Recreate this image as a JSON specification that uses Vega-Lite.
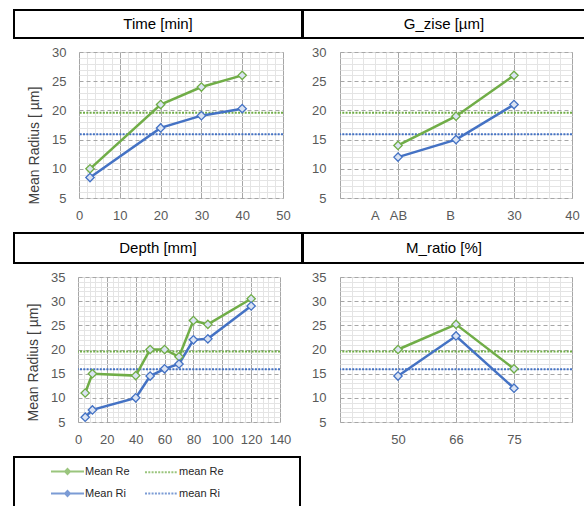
{
  "$schema": "https://vega.github.io/schema/vega-lite/v6.json",
  "background": "white",
  "padding": {"left": 13, "top": 9, "right": 0, "bottom": 0},
  "config": {
    "font": "Liberation Sans",
    "view": {"stroke": "#D9D9D9", "strokeWidth": 1},
    "axis": {"labelFont": "Liberation Sans", "labelFontSize": 13, "labelColor": "#595959", "ticks": false, "tickSize": 0, "domain": false, "labelFlush": false, "labelOverlap": false, "titleFont": "Liberation Sans", "titleFontSize": 14, "titleFontWeight": "normal", "titleColor": "#404040", "gridWidth": 1},
    "axisX": {"labelPadding": 11}
  },
  "resolve": {"scale": {"stroke": "independent", "shape": "independent", "strokeDash": "independent"}, "legend": {"stroke": "independent", "shape": "independent", "strokeDash": "independent"}},
  "spacing": -2,
  "hconcat": [
    {
      "spacing": 9,
      "resolve": {"scale": {"stroke": "independent", "shape": "independent", "strokeDash": "independent"}, "legend": {"stroke": "independent", "shape": "independent", "strokeDash": "independent"}},
      "vconcat": [
        {
          "spacing": 7,
          "vconcat": [
            {"width": 288, "height": 28, "view": {"stroke": "#000000", "strokeWidth": 2}, "data": {"values": [{"t": "Time [min]"}]}, "mark": {"type": "text", "fontSize": 15, "color": "#000000", "font": "Liberation Sans", "baseline": "middle", "align": "center"}, "encoding": {"text": {"field": "t"}}},
            {
              "spacing": -4,
              "hconcat": [
                {
                  "width": 64, "height": 146, "view": {"stroke": null},
                  "data": {"values": [{"v": 10}, {"v": 21}, {"v": 24}, {"v": 26}, {"v": 8.5}, {"v": 17}, {"v": 19.1}, {"v": 20.3}]},
                  "mark": {"type": "text", "text": ""},
                  "encoding": {"y": {"field": "v", "type": "quantitative", "scale": {"domain": [5, 30], "nice": false, "zero": false}, "axis": {"orient": "right", "grid": false, "values": [5, 10, 15, 20, 25, 30], "labelAlign": "right", "labelPadding": -12, "title": "Mean Radius [ µm]", "titleAngle": 270, "titleX": -44, "titleY": 93, "titleAlign": "center", "titleBaseline": "middle"}}}
                },
                {
                  "width": 204, "height": 146,
                  "data": {"values": [
                    {"x": 2.7, "v": 10, "s": "Re"}, {"x": 20, "v": 21, "s": "Re"}, {"x": 30, "v": 24, "s": "Re"}, {"x": 40, "v": 26, "s": "Re"},
                    {"x": 2.7, "v": 8.5, "s": "Ri"}, {"x": 20, "v": 17, "s": "Ri"}, {"x": 30, "v": 19.1, "s": "Ri"}, {"x": 40, "v": 20.3, "s": "Ri"}
                  ]},
                  "encoding": {
                    "y": {"field": "v", "type": "quantitative", "scale": {"domain": [5, 30], "nice": false, "zero": false}, "axis": {"title": null, "labels": false, "values": [5,6,7,8,9,10,11,12,13,14,15,16,17,18,19,20,21,22,23,24,25,26,27,28,29,30], "gridColor": {"condition": {"test": "datum.value % 5 === 0", "value": "#A6A6A6"}, "value": "#E4E4E4"}, "gridDash": {"condition": {"test": "datum.value % 5 === 0", "value": [4, 3]}, "value": []}}},
                    "stroke": {"field": "s", "type": "nominal", "scale": {"domain": ["Re", "Ri"], "range": ["#70AD47", "#4472C4"]}, "legend": null}
                  },
                  "layer": [
                    {"data": {"values": [{"s": "Re", "v": 19.6}, {"s": "Ri", "v": 15.9}]}, "mark": {"type": "rule", "strokeDash": [2, 1.3], "strokeWidth": 2}},
                    {"mark": {"type": "line", "strokeWidth": 2.5}, "encoding": {"x": {"field": "x", "type": "quantitative", "scale": {"domain": [0, 50], "nice": false, "zero": false}, "axis": {"title": null, "values": [0,2,4,6,8,10,12,14,16,18,20,22,24,26,28,30,32,34,36,38,40,42,44,46,48,50], "labelExpr": "datum.value % 10 === 0 ? datum.label : ''", "gridColor": {"condition": {"test": "datum.value % 10 === 0", "value": "#A6A6A6"}, "value": "#E4E4E4"}}}}},
                    {"mark": {"type": "point", "shape": "diamond", "filled": true, "fill": "#DAE3F3", "size": 70, "strokeWidth": 1.3, "opacity": 1}, "encoding": {"x": {"field": "x", "type": "quantitative", "scale": {"domain": [0, 50], "nice": false, "zero": false}, "axis": {"title": null, "values": [0,2,4,6,8,10,12,14,16,18,20,22,24,26,28,30,32,34,36,38,40,42,44,46,48,50], "labelExpr": "datum.value % 10 === 0 ? datum.label : ''", "gridColor": {"condition": {"test": "datum.value % 10 === 0", "value": "#A6A6A6"}, "value": "#E4E4E4"}}}}}
                  ]
                }
              ]
            }
          ]
        },
        {
          "spacing": 7,
          "vconcat": [
            {"width": 288, "height": 30, "view": {"stroke": "#000000", "strokeWidth": 2}, "data": {"values": [{"t": "Depth [mm]"}]}, "mark": {"type": "text", "fontSize": 15, "color": "#000000", "font": "Liberation Sans", "baseline": "middle", "align": "center"}, "encoding": {"text": {"field": "t"}}},
            {
              "spacing": -4,
              "hconcat": [
                {
                  "width": 63, "height": 145, "view": {"stroke": null},
                  "data": {"values": [{"v": 11}, {"v": 30.5}, {"v": 6}, {"v": 29}]},
                  "mark": {"type": "text", "text": ""},
                  "encoding": {"y": {"field": "v", "type": "quantitative", "scale": {"domain": [5, 35], "nice": false, "zero": false}, "axis": {"orient": "right", "grid": false, "values": [5, 10, 15, 20, 25, 30, 35], "labelAlign": "right", "labelPadding": -12, "title": "Mean Radius [ µm]", "titleAngle": 270, "titleX": -44, "titleY": 85, "titleAlign": "center", "titleBaseline": "middle"}}}
                },
                {
                  "width": 202, "height": 145,
                  "data": {"values": [
                    {"x": 5, "v": 11, "s": "Re"}, {"x": 10, "v": 15, "s": "Re"}, {"x": 40, "v": 14.6, "s": "Re"}, {"x": 50, "v": 20, "s": "Re"}, {"x": 60, "v": 20, "s": "Re"}, {"x": 70, "v": 18.5, "s": "Re"}, {"x": 80, "v": 26, "s": "Re"}, {"x": 90, "v": 25.2, "s": "Re"}, {"x": 120, "v": 30.5, "s": "Re"},
                    {"x": 5, "v": 6, "s": "Ri"}, {"x": 10, "v": 7.5, "s": "Ri"}, {"x": 40, "v": 10, "s": "Ri"}, {"x": 50, "v": 14.5, "s": "Ri"}, {"x": 60, "v": 16, "s": "Ri"}, {"x": 70, "v": 17, "s": "Ri"}, {"x": 80, "v": 22, "s": "Ri"}, {"x": 90, "v": 22.2, "s": "Ri"}, {"x": 120, "v": 29, "s": "Ri"}
                  ]},
                  "encoding": {
                    "y": {"field": "v", "type": "quantitative", "scale": {"domain": [5, 35], "nice": false, "zero": false}, "axis": {"title": null, "labels": false, "values": [5,6,7,8,9,10,11,12,13,14,15,16,17,18,19,20,21,22,23,24,25,26,27,28,29,30,31,32,33,34,35], "gridColor": {"condition": {"test": "datum.value % 5 === 0", "value": "#A6A6A6"}, "value": "#E4E4E4"}, "gridDash": {"condition": {"test": "datum.value % 5 === 0", "value": [4, 3]}, "value": []}}},
                    "stroke": {"field": "s", "type": "nominal", "scale": {"domain": ["Re", "Ri"], "range": ["#70AD47", "#4472C4"]}, "legend": null}
                  },
                  "layer": [
                    {"data": {"values": [{"s": "Re", "v": 19.6}, {"s": "Ri", "v": 15.9}]}, "mark": {"type": "rule", "strokeDash": [2, 1.3], "strokeWidth": 2}},
                    {"mark": {"type": "line", "strokeWidth": 2.5}, "encoding": {"x": {"field": "x", "type": "quantitative", "scale": {"domain": [0, 140], "nice": false, "zero": false}, "axis": {"title": null, "values": [0,4,8,12,16,20,24,28,32,36,40,44,48,52,56,60,64,68,72,76,80,84,88,92,96,100,104,108,112,116,120,124,128,132,136,140], "labelExpr": "datum.value % 20 === 0 ? datum.label : ''", "gridColor": {"condition": {"test": "datum.value % 20 === 0", "value": "#A6A6A6"}, "value": "#E4E4E4"}}}}},
                    {"mark": {"type": "point", "shape": "diamond", "filled": true, "fill": "#DAE3F3", "size": 70, "strokeWidth": 1.3, "opacity": 1}, "encoding": {"x": {"field": "x", "type": "quantitative", "scale": {"domain": [0, 140], "nice": false, "zero": false}, "axis": {"title": null, "values": [0,4,8,12,16,20,24,28,32,36,40,44,48,52,56,60,64,68,72,76,80,84,88,92,96,100,104,108,112,116,120,124,128,132,136,140], "labelExpr": "datum.value % 20 === 0 ? datum.label : ''", "gridColor": {"condition": {"test": "datum.value % 20 === 0", "value": "#A6A6A6"}, "value": "#E4E4E4"}}}}}
                  ]
                }
              ]
            }
          ]
        },
        {
          "width": 286, "height": 50,
          "view": {"stroke": "#000000", "strokeWidth": 2},
          "data": {"values": []},
          "mark": {"type": "point", "filled": true, "fill": "#DAE3F3"},
          "encoding": {
            "stroke": {"field": "s", "type": "nominal", "scale": {"domain": ["Mean Re", "Mean Ri", "mean Re", "mean Ri"], "range": ["#70AD47", "#4472C4", "#70AD47", "#4472C4"]}, "legend": {"title": null, "orient": "none", "legendX": 37, "legendY": 8, "columns": 2, "symbolSize": 121, "symbolStrokeWidth": 2, "symbolOffset": 10, "labelOffset": 11, "columnPadding": 11, "rowPadding": 9, "labelFont": "Liberation Sans", "labelFontSize": 11, "labelColor": "#262626", "padding": 0, "symbolFillColor": "#DAE3F3"}},
            "shape": {"field": "s", "type": "nominal", "scale": {"domain": ["Mean Re", "Mean Ri", "mean Re", "mean Ri"], "range": ["M-3,0H3M0,-0.45L0.45,0L0,0.45L-0.45,0Z", "M-3,0H3M0,-0.45L0.45,0L0,0.45L-0.45,0Z", "M-3,0H3", "M-3,0H3"]}, "legend": {"title": null, "orient": "none", "legendX": 37, "legendY": 8, "columns": 2, "symbolSize": 121, "symbolStrokeWidth": 2, "symbolOffset": 10, "labelOffset": 11, "columnPadding": 11, "rowPadding": 9, "labelFont": "Liberation Sans", "labelFontSize": 11, "labelColor": "#262626", "padding": 0, "symbolFillColor": "#DAE3F3"}},
            "strokeDash": {"field": "s", "type": "nominal", "scale": {"domain": ["Mean Re", "Mean Ri", "mean Re", "mean Ri"], "range": [[1, 0], [1, 0], [2, 1.3], [2, 1.3]]}, "legend": {"title": null, "orient": "none", "legendX": 37, "legendY": 8, "columns": 2, "symbolSize": 121, "symbolStrokeWidth": 2, "symbolOffset": 10, "labelOffset": 11, "columnPadding": 11, "rowPadding": 9, "labelFont": "Liberation Sans", "labelFontSize": 11, "labelColor": "#262626", "padding": 0, "symbolFillColor": "#DAE3F3"}}
          }
        }
      ]
    },
    {
      "spacing": 9,
      "vconcat": [
        {
          "spacing": 7,
          "vconcat": [
            {"width": 284, "height": 28, "view": {"stroke": "#000000", "strokeWidth": 2}, "data": {"values": [{"t": "G_zise [µm]"}]}, "mark": {"type": "text", "fontSize": 15, "color": "#000000", "font": "Liberation Sans", "baseline": "middle", "align": "center", "dx": -1}, "encoding": {"text": {"field": "t"}}},
            {
              "spacing": -1,
              "hconcat": [
                {
                  "width": 36, "height": 146, "view": {"stroke": null},
                  "data": {"values": [{"v": 14}, {"v": 19}, {"v": 26}, {"v": 12}, {"v": 15}, {"v": 21}]},
                  "mark": {"type": "text", "text": ""},
                  "encoding": {"y": {"field": "v", "type": "quantitative", "scale": {"domain": [5, 30], "nice": false, "zero": false}, "axis": {"orient": "right", "grid": false, "values": [5, 10, 15, 20, 25, 30], "labelAlign": "right", "labelPadding": -13, "title": null}}}
                },
                {
                  "width": 232, "height": 146,
                  "data": {"values": [
                    {"x": 10, "v": 14, "s": "Re"}, {"x": 20, "v": 19, "s": "Re"}, {"x": 30, "v": 26, "s": "Re"},
                    {"x": 10, "v": 12, "s": "Ri"}, {"x": 20, "v": 15, "s": "Ri"}, {"x": 30, "v": 21, "s": "Ri"}
                  ]},
                  "encoding": {
                    "y": {"field": "v", "type": "quantitative", "scale": {"domain": [5, 30], "nice": false, "zero": false}, "axis": {"title": null, "labels": false, "values": [5,6,7,8,9,10,11,12,13,14,15,16,17,18,19,20,21,22,23,24,25,26,27,28,29,30], "gridColor": {"condition": {"test": "datum.value % 5 === 0", "value": "#A6A6A6"}, "value": "#E4E4E4"}, "gridDash": {"condition": {"test": "datum.value % 5 === 0", "value": [4, 3]}, "value": []}}},
                    "stroke": {"field": "s", "type": "nominal", "scale": {"domain": ["Re", "Ri"], "range": ["#70AD47", "#4472C4"]}, "legend": null}
                  },
                  "layer": [
                    {"data": {"values": [{"s": "Re", "v": 19.6}, {"s": "Ri", "v": 15.9}]}, "mark": {"type": "rule", "strokeDash": [2, 1.3], "strokeWidth": 2}},
                    {"mark": {"type": "line", "strokeWidth": 2.5}, "encoding": {"x": {"field": "x", "type": "quantitative", "scale": {"domain": [0, 40], "nice": false, "zero": false}, "axis": {"title": null, "values": [0,1,2,3,4,5,6,7,8,9,10,11,12,13,14,15,16,17,18,19,20,21,22,23,24,25,26,27,28,29,30,31,32,33,34,35,36,37,38,39,40], "labelExpr": "datum.value == 6 ? 'A' : datum.value == 10 ? 'AB' : datum.value == 19 ? 'B' : datum.value == 30 ? '30' : datum.value == 40 ? '40' : ''", "gridColor": {"condition": {"test": "datum.value % 10 === 0", "value": "#A6A6A6"}, "value": "#E4E4E4"}, "gridOpacity": {"condition": {"test": "datum.value % 2 !== 0", "value": 0}, "value": 1}}}}},
                    {"mark": {"type": "point", "shape": "diamond", "filled": true, "fill": "#DAE3F3", "size": 70, "strokeWidth": 1.3, "opacity": 1}, "encoding": {"x": {"field": "x", "type": "quantitative", "scale": {"domain": [0, 40], "nice": false, "zero": false}, "axis": {"title": null, "values": [0,1,2,3,4,5,6,7,8,9,10,11,12,13,14,15,16,17,18,19,20,21,22,23,24,25,26,27,28,29,30,31,32,33,34,35,36,37,38,39,40], "labelExpr": "datum.value == 6 ? 'A' : datum.value == 10 ? 'AB' : datum.value == 19 ? 'B' : datum.value == 30 ? '30' : datum.value == 40 ? '40' : ''", "gridColor": {"condition": {"test": "datum.value % 10 === 0", "value": "#A6A6A6"}, "value": "#E4E4E4"}, "gridOpacity": {"condition": {"test": "datum.value % 2 !== 0", "value": 0}, "value": 1}}}}}
                  ]
                }
              ]
            }
          ]
        },
        {
          "spacing": 7,
          "vconcat": [
            {"width": 284, "height": 30, "view": {"stroke": "#000000", "strokeWidth": 2}, "data": {"values": [{"t": "M_ratio [%]"}]}, "mark": {"type": "text", "fontSize": 15, "color": "#000000", "font": "Liberation Sans", "baseline": "middle", "align": "center", "dx": -1}, "encoding": {"text": {"field": "t"}}},
            {
              "spacing": -1,
              "hconcat": [
                {
                  "width": 36, "height": 145, "view": {"stroke": null},
                  "data": {"values": [{"v": 20}, {"v": 25.2}, {"v": 16}, {"v": 14.5}, {"v": 22.8}, {"v": 12}]},
                  "mark": {"type": "text", "text": ""},
                  "encoding": {"y": {"field": "v", "type": "quantitative", "scale": {"domain": [5, 35], "nice": false, "zero": false}, "axis": {"orient": "right", "grid": false, "values": [5, 10, 15, 20, 25, 30, 35], "labelAlign": "right", "labelPadding": -13, "title": null}}}
                },
                {
                  "width": 232, "height": 145,
                  "data": {"values": [
                    {"x": 1, "v": 20, "s": "Re"}, {"x": 2, "v": 25.2, "s": "Re"}, {"x": 3, "v": 16, "s": "Re"},
                    {"x": 1, "v": 14.5, "s": "Ri"}, {"x": 2, "v": 22.8, "s": "Ri"}, {"x": 3, "v": 12, "s": "Ri"}
                  ]},
                  "encoding": {
                    "y": {"field": "v", "type": "quantitative", "scale": {"domain": [5, 35], "nice": false, "zero": false}, "axis": {"title": null, "labels": false, "values": [5,6,7,8,9,10,11,12,13,14,15,16,17,18,19,20,21,22,23,24,25,26,27,28,29,30,31,32,33,34,35], "gridColor": {"condition": {"test": "datum.value % 5 === 0", "value": "#A6A6A6"}, "value": "#E4E4E4"}, "gridDash": {"condition": {"test": "datum.value % 5 === 0", "value": [4, 3]}, "value": []}}},
                    "stroke": {"field": "s", "type": "nominal", "scale": {"domain": ["Re", "Ri"], "range": ["#70AD47", "#4472C4"]}, "legend": null}
                  },
                  "layer": [
                    {"data": {"values": [{"s": "Re", "v": 19.6}, {"s": "Ri", "v": 15.9}]}, "mark": {"type": "rule", "strokeDash": [2, 1.3], "strokeWidth": 2}},
                    {"mark": {"type": "line", "strokeWidth": 2.5}, "encoding": {"x": {"field": "x", "type": "quantitative", "scale": {"domain": [0, 4], "nice": false, "zero": false}, "axis": {"title": null, "values": [0,0.2,0.4,0.6,0.8,1,1.2,1.4,1.6,1.8,2,2.2,2.4,2.6,2.8,3,3.2,3.4,3.6,3.8,4], "labelExpr": "datum.value == 1 ? '50' : datum.value == 2 ? '66' : datum.value == 3 ? '75' : ''", "gridColor": {"condition": {"test": "abs(datum.value - round(datum.value)) < 0.01", "value": "#A6A6A6"}, "value": "#E4E4E4"}}}}},
                    {"mark": {"type": "point", "shape": "diamond", "filled": true, "fill": "#DAE3F3", "size": 70, "strokeWidth": 1.3, "opacity": 1}, "encoding": {"x": {"field": "x", "type": "quantitative", "scale": {"domain": [0, 4], "nice": false, "zero": false}, "axis": {"title": null, "values": [0,0.2,0.4,0.6,0.8,1,1.2,1.4,1.6,1.8,2,2.2,2.4,2.6,2.8,3,3.2,3.4,3.6,3.8,4], "labelExpr": "datum.value == 1 ? '50' : datum.value == 2 ? '66' : datum.value == 3 ? '75' : ''", "gridColor": {"condition": {"test": "abs(datum.value - round(datum.value)) < 0.01", "value": "#A6A6A6"}, "value": "#E4E4E4"}}}}}
                  ]
                }
              ]
            }
          ]
        }
      ]
    }
  ]
}
